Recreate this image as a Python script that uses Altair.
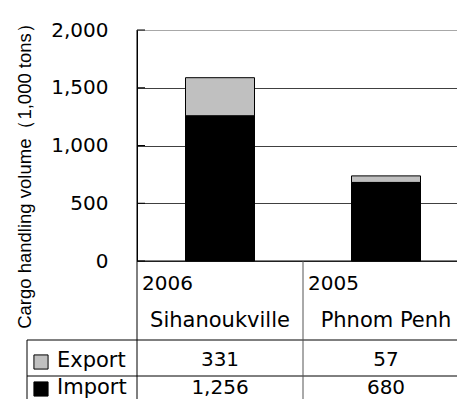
import altair as alt
import pandas as pd

categories = ["Sihanoukville", "Phnom Penh"]
years = ["2006", "2005"]
series = ["Export", "Import"]
export_values = [331, 57]
import_values = [1256, 680]
y_ticks = [0, 500, 1000, 1500, 2000]
y_title = "Cargo handling volume（1,000 tons）"

bars_df = pd.DataFrame({
    "category": categories * 2,
    "series": ["Export"] * 2 + ["Import"] * 2,
    "value": export_values + import_values,
})
cats_df = pd.DataFrame({"category": categories, "year": years,
                        "export": export_values, "import": import_values})
ticks_df = pd.DataFrame({"tick": y_ticks})
legend_df = pd.DataFrame({"series": series})
one = pd.DataFrame({"k": [0]})

W, H = 320, 231
XR = 340
FONT = "DejaVu Sans"
TBL_BOTTOM = 380
ROW1 = 310
ROW2 = 346
EXP_Y = 330
IMP_Y = 358

xscale = alt.Scale(domain=categories, paddingInner=0, paddingOuter=0, range=[0, 332])
colorscale = alt.Scale(domain=series, range=["#c0c0c0", "#000000"])
yscale = alt.Scale(domain=[0, 2000], nice=False)
yaxis = alt.Axis(values=y_ticks, labelExpr="format(datum.value, ',.0f')", grid=True,
                 gridColor={"condition": {"test": "datum.value === 2000", "value": "#a8a8a8"},
                            "value": "#404040"},
                 gridWidth=1, domainColor="black", domainWidth=1, ticks=False,
                 labelFontSize=20, labelFont=FONT, labelColor="black",
                 labelPadding=29, title=y_title, titleFont="Liberation Sans",
                 titleFontSize=18.5, titleFontWeight="normal", titleColor="black",
                 titleX=-113, titleY=141, titleAngle=270,
                 titleAlign="center", titleBaseline="middle")

bars = alt.Chart(bars_df).mark_bar(size=69, stroke="black", strokeWidth=1).encode(
    x=alt.X("category:N", scale=xscale, axis=None),
    y=alt.Y("value:Q", stack="zero", scale=yscale, axis=yaxis),
    color=alt.Color("series:N", scale=colorscale, legend=None),
    order=alt.Order("series:N", sort="descending"),
)

inner_ticks = alt.Chart(ticks_df).mark_rule(color="black", strokeWidth=1).encode(
    y=alt.Y("tick:Q", scale=yscale, axis=yaxis),
    x=alt.value(0), x2=alt.value(8),
)

def hline(y, x0):
    return alt.Chart(one).mark_rule(color="black", strokeWidth=1).encode(
        x=alt.value(x0), x2=alt.value(XR), y=alt.value(y))

base_line = hline(H, 0)
row_line1 = hline(ROW1, -110)
row_line2 = hline(ROW2, -110)

col_lines = alt.Chart(cats_df).transform_filter(
    alt.datum.category == categories[0]).mark_rule(color="black", strokeWidth=1).encode(
    x=alt.X("category:N", scale=xscale, bandPosition=0),
    y=alt.value(0), y2=alt.value(TBL_BOTTOM),
)
col_lines2 = alt.Chart(cats_df).transform_filter(
    alt.datum.category == categories[1]).mark_rule(color="#555555", strokeWidth=1).encode(
    x=alt.X("category:N", scale=xscale, bandPosition=0),
    y=alt.value(H), y2=alt.value(TBL_BOTTOM),
)
legend_border = alt.Chart(one).mark_rule(color="black", strokeWidth=1).encode(
    x=alt.value(-110), y=alt.value(ROW1), y2=alt.value(TBL_BOTTOM))

year_text = alt.Chart(cats_df).mark_text(align="left", baseline="middle", dx=5,
                                         fontSize=20, font=FONT, color="black").encode(
    x=alt.X("category:N", scale=xscale, bandPosition=0),
    y=alt.value(254), text="year:N")
cat_text = alt.Chart(cats_df).mark_text(align="center", baseline="middle",
                                        fontSize=21, font=FONT, color="black").encode(
    x=alt.X("category:N", scale=xscale),
    y=alt.value(291), text="category:N")
exp_text = alt.Chart(cats_df).mark_text(align="center", baseline="middle",
                                        fontSize=20, font=FONT, color="black").encode(
    x=alt.X("category:N", scale=xscale),
    y=alt.value(EXP_Y), text=alt.Text("export:Q", format=","))
imp_text = alt.Chart(cats_df).mark_text(align="center", baseline="middle",
                                        fontSize=20, font=FONT, color="black").encode(
    x=alt.X("category:N", scale=xscale),
    y=alt.value(IMP_Y), text=alt.Text("import:Q", format=","))

def legend_row(name, y):
    src = alt.Chart(legend_df).transform_filter(alt.datum.series == name)
    sq = src.mark_point(shape="square", filled=True, size=200, stroke="black",
                        strokeWidth=1, opacity=1).encode(
        x=alt.value(-96), y=alt.value(y + 1),
        color=alt.Color("series:N", scale=colorscale, legend=None))
    tx = src.mark_text(align="left", baseline="middle", fontSize=21, font=FONT,
                       color="black").encode(
        x=alt.value(-80), y=alt.value(y), text="series:N")
    return sq + tx

chart = alt.layer(
    bars, inner_ticks, base_line, row_line1, row_line2, col_lines, col_lines2,
    legend_border, year_text, cat_text, exp_text, imp_text,
    legend_row("Export", EXP_Y + 1), legend_row("Import", IMP_Y),
).properties(
    width=W, height=H,
    padding={"left": 129, "top": 22, "right": 0, "bottom": 138},
    autosize=alt.AutoSizeParams(type="none"),
).configure_view(stroke=None).configure(background="white")

chart.save("out.html", embed_options={"renderer": "svg", "actions": False})
